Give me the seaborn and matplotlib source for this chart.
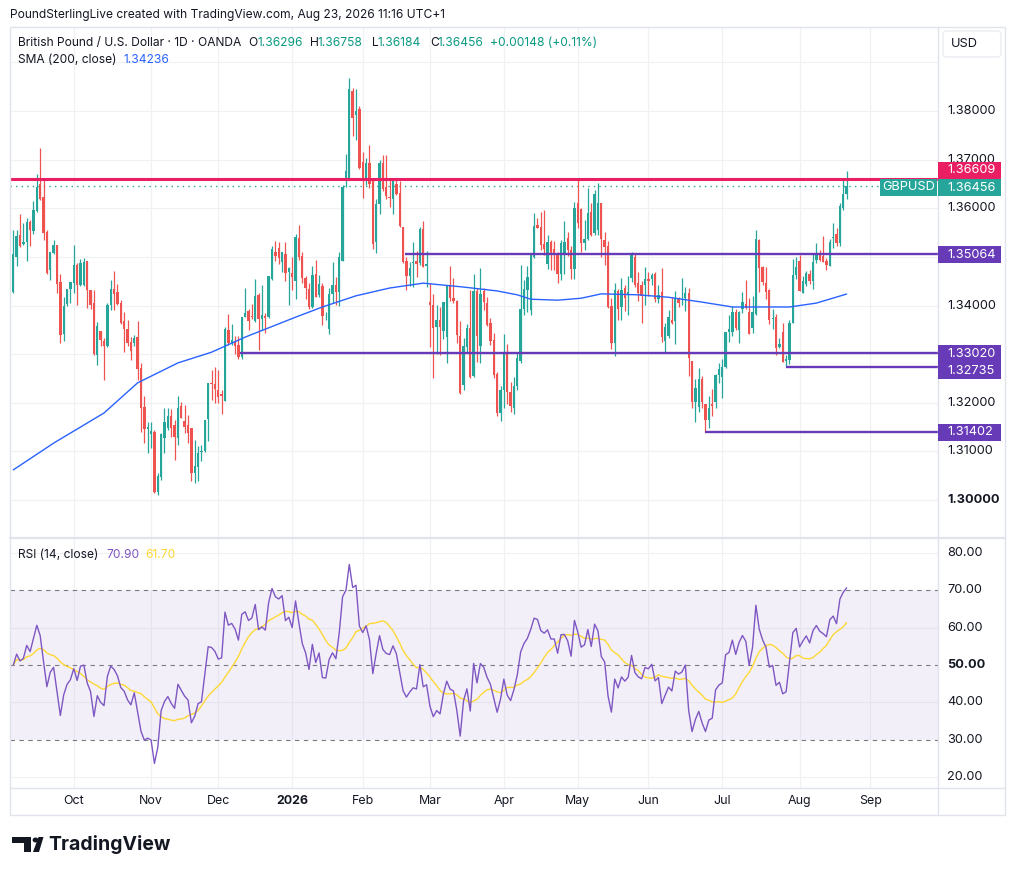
import numpy as np
import pandas as pd
import matplotlib
matplotlib.use("Agg")
import matplotlib.pyplot as plt
from matplotlib.patches import FancyBboxPatch, Rectangle, Polygon, Circle
from matplotlib.lines import Line2D
import seaborn as sns

# ---------------- data (GBP/USD daily, OANDA) ----------------
opens = [
 1.3428, 1.3500, 1.3545, 1.3527, 1.3531, 1.3572, 1.3553, 1.3594, 1.3650, 1.3623,
 1.3551, 1.3473, 1.3508, 1.3525, 1.3448, 1.3342, 1.3403, 1.3433, 1.3446, 1.3483,
 1.3442, 1.3442, 1.3492, 1.3432, 1.3405, 1.3298, 1.3348, 1.3327, 1.3317, 1.3401,
 1.3434, 1.3428, 1.3405, 1.3368, 1.3352, 1.3325, 1.3323, 1.3335, 1.3271, 1.3191,
 1.3146, 1.3135, 1.3140, 1.3016, 1.3048, 1.3128, 1.3148, 1.3173, 1.3154, 1.3128,
 1.3193, 1.3163, 1.3154, 1.3148, 1.3056, 1.3068, 1.3099, 1.3101, 1.3166, 1.3240,
 1.3238, 1.3226, 1.3218, 1.3203, 1.3350, 1.3323, 1.3325, 1.3319, 1.3294, 1.3376,
 1.3389, 1.3378, 1.3368, 1.3422, 1.3372, 1.3379, 1.3376, 1.3455, 1.3510, 1.3518,
 1.3490, 1.3506, 1.3469, 1.3467, 1.3450, 1.3539, 1.3502, 1.3457, 1.3434, 1.3397,
 1.3465, 1.3422, 1.3440, 1.3376, 1.3351, 1.3424, 1.3442, 1.3428, 1.3492, 1.3662,
 1.3662, 1.3841, 1.3792, 1.3804, 1.3695, 1.3658, 1.3693, 1.3658, 1.3531, 1.3609,
 1.3693, 1.3644, 1.3623, 1.3619, 1.3650, 1.3631, 1.3561, 1.3491, 1.3461, 1.3487,
 1.3491, 1.3487, 1.3557, 1.3481, 1.3407, 1.3401, 1.3356, 1.3370, 1.3348, 1.3335,
 1.3442, 1.3415, 1.3409, 1.3337, 1.3237, 1.3315, 1.3354, 1.3255, 1.3430, 1.3317,
 1.3430, 1.3405, 1.3364, 1.3329, 1.3259, 1.3179, 1.3226, 1.3302, 1.3222, 1.3189,
 1.3234, 1.3286, 1.3393, 1.3432, 1.3391, 1.3500, 1.3565, 1.3561, 1.3527, 1.3485,
 1.3530, 1.3516, 1.3506, 1.3465, 1.3504, 1.3539, 1.3514, 1.3475, 1.3611, 1.3598,
 1.3528, 1.3537, 1.3592, 1.3549, 1.3555, 1.3611, 1.3535, 1.3522, 1.3399, 1.3323,
 1.3430, 1.3397, 1.3436, 1.3422, 1.3457, 1.3500, 1.3446, 1.3442, 1.3442, 1.3454,
 1.3454, 1.3465, 1.3413, 1.3428, 1.3327, 1.3337, 1.3370, 1.3368, 1.3413, 1.3409,
 1.3415, 1.3426, 1.3286, 1.3202, 1.3191, 1.3249, 1.3197, 1.3164, 1.3197, 1.3202,
 1.3257, 1.3253, 1.3274, 1.3346, 1.3346, 1.3387, 1.3350, 1.3393, 1.3403, 1.3387,
 1.3354, 1.3383, 1.3535, 1.3479, 1.3446, 1.3432, 1.3372, 1.3376, 1.3315, 1.3346,
 1.3286, 1.3288, 1.3364, 1.3463, 1.3491, 1.3426, 1.3444, 1.3465, 1.3450, 1.3494,
 1.3506, 1.3502, 1.3491, 1.3481, 1.3539, 1.3547, 1.3528, 1.3600, 1.36296]

highs = [
 1.3555, 1.3555, 1.3588, 1.3569, 1.3580, 1.3576, 1.3615, 1.3670, 1.3724, 1.3658,
 1.3555, 1.3510, 1.3535, 1.3525, 1.3465, 1.3418, 1.3433, 1.3448, 1.3525, 1.3487,
 1.3495, 1.3497, 1.3492, 1.3432, 1.3432, 1.3366, 1.3348, 1.3333, 1.3405, 1.3452,
 1.3471, 1.3444, 1.3411, 1.3387, 1.3370, 1.3335, 1.3340, 1.3368, 1.3282, 1.3214,
 1.3160, 1.3160, 1.3144, 1.3056, 1.3138, 1.3189, 1.3189, 1.3187, 1.3164, 1.3214,
 1.3201, 1.3195, 1.3175, 1.3148, 1.3124, 1.3111, 1.3113, 1.3164, 1.3240, 1.3267,
 1.3273, 1.3267, 1.3226, 1.3356, 1.3383, 1.3362, 1.3337, 1.3337, 1.3377, 1.3436,
 1.3393, 1.3403, 1.3455, 1.3426, 1.3442, 1.3384, 1.3461, 1.3523, 1.3533, 1.3530,
 1.3510, 1.3530, 1.3479, 1.3500, 1.3547, 1.3565, 1.3511, 1.3461, 1.3446, 1.3481,
 1.3494, 1.3463, 1.3446, 1.3387, 1.3436, 1.3489, 1.3459, 1.3510, 1.3647, 1.3712,
 1.3868, 1.3847, 1.3845, 1.3810, 1.3716, 1.3704, 1.3730, 1.3663, 1.3620, 1.3699,
 1.3709, 1.3709, 1.3663, 1.3661, 1.3661, 1.3657, 1.3561, 1.3500, 1.3489, 1.3530,
 1.3513, 1.3561, 1.3574, 1.3513, 1.3446, 1.3424, 1.3401, 1.3397, 1.3407, 1.3442,
 1.3481, 1.3456, 1.3411, 1.3368, 1.3333, 1.3362, 1.3432, 1.3465, 1.3436, 1.3477,
 1.3436, 1.3418, 1.3374, 1.3343, 1.3263, 1.3234, 1.3341, 1.3320, 1.3242, 1.3253,
 1.3302, 1.3483, 1.3453, 1.3481, 1.3504, 1.3590, 1.3579, 1.3593, 1.3597, 1.3545,
 1.3535, 1.3532, 1.3511, 1.3535, 1.3574, 1.3551, 1.3522, 1.3612, 1.3658, 1.3600,
 1.3576, 1.3641, 1.3610, 1.3637, 1.3651, 1.3611, 1.3552, 1.3532, 1.3415, 1.3446,
 1.3434, 1.3456, 1.3442, 1.3460, 1.3510, 1.3505, 1.3469, 1.3450, 1.3480, 1.3469,
 1.3466, 1.3469, 1.3442, 1.3478, 1.3364, 1.3391, 1.3417, 1.3429, 1.3417, 1.3456,
 1.3439, 1.3437, 1.3286, 1.3249, 1.3271, 1.3256, 1.3197, 1.3214, 1.3228, 1.3260,
 1.3282, 1.3290, 1.3346, 1.3381, 1.3399, 1.3393, 1.3389, 1.3428, 1.3452, 1.3416,
 1.3420, 1.3555, 1.3536, 1.3481, 1.3480, 1.3434, 1.3393, 1.3382, 1.3333, 1.3364,
 1.3298, 1.3371, 1.3495, 1.3499, 1.3504, 1.3461, 1.3471, 1.3474, 1.3505, 1.3529,
 1.3515, 1.3543, 1.3498, 1.3536, 1.3570, 1.3560, 1.3611, 1.3659, 1.36758]

lows = [
 1.3425, 1.3481, 1.3520, 1.3525, 1.3491, 1.3522, 1.3547, 1.3592, 1.3617, 1.3535,
 1.3465, 1.3452, 1.3506, 1.3426, 1.3323, 1.3327, 1.3400, 1.3405, 1.3426, 1.3401,
 1.3440, 1.3440, 1.3395, 1.3393, 1.3298, 1.3278, 1.3317, 1.3247, 1.3315, 1.3391,
 1.3391, 1.3401, 1.3362, 1.3304, 1.3317, 1.3288, 1.3317, 1.3247, 1.3140, 1.3117,
 1.3097, 1.3107, 1.3014, 1.3010, 1.3041, 1.3097, 1.3144, 1.3130, 1.3082, 1.3113,
 1.3169, 1.3138, 1.3118, 1.3039, 1.3035, 1.3039, 1.3080, 1.3099, 1.3121, 1.3205,
 1.3200, 1.3200, 1.3177, 1.3203, 1.3319, 1.3319, 1.3300, 1.3290, 1.3290, 1.3376,
 1.3350, 1.3372, 1.3366, 1.3308, 1.3350, 1.3343, 1.3374, 1.3453, 1.3492, 1.3485,
 1.3469, 1.3450, 1.3401, 1.3432, 1.3413, 1.3494, 1.3447, 1.3413, 1.3393, 1.3395,
 1.3418, 1.3418, 1.3360, 1.3370, 1.3341, 1.3405, 1.3401, 1.3399, 1.3491, 1.3644,
 1.3662, 1.3749, 1.3741, 1.3680, 1.3621, 1.3648, 1.3641, 1.3516, 1.3508, 1.3589,
 1.3635, 1.3620, 1.3603, 1.3589, 1.3627, 1.3561, 1.3487, 1.3432, 1.3441, 1.3439,
 1.3459, 1.3483, 1.3479, 1.3439, 1.3315, 1.3251, 1.3301, 1.3298, 1.3331, 1.3282,
 1.3409, 1.3405, 1.3323, 1.3219, 1.3227, 1.3305, 1.3251, 1.3253, 1.3284, 1.3282,
 1.3391, 1.3358, 1.3319, 1.3251, 1.3172, 1.3162, 1.3189, 1.3197, 1.3181, 1.3177,
 1.3226, 1.3282, 1.3381, 1.3387, 1.3381, 1.3498, 1.3559, 1.3514, 1.3504, 1.3475,
 1.3473, 1.3473, 1.3446, 1.3452, 1.3465, 1.3501, 1.3454, 1.3454, 1.3559, 1.3511,
 1.3514, 1.3535, 1.3542, 1.3545, 1.3545, 1.3499, 1.3484, 1.3395, 1.3311, 1.3297,
 1.3370, 1.3370, 1.3389, 1.3380, 1.3449, 1.3439, 1.3409, 1.3364, 1.3402, 1.3420,
 1.3442, 1.3408, 1.3406, 1.3324, 1.3302, 1.3333, 1.3362, 1.3321, 1.3396, 1.3401,
 1.3388, 1.3256, 1.3189, 1.3160, 1.3182, 1.3189, 1.3140, 1.3149, 1.3173, 1.3190,
 1.3241, 1.3209, 1.3272, 1.3324, 1.3337, 1.3349, 1.3323, 1.3384, 1.3392, 1.3341,
 1.3344, 1.3380, 1.3428, 1.3443, 1.3413, 1.3361, 1.3351, 1.3299, 1.3313, 1.3283,
 1.32735, 1.3280, 1.3364, 1.3454, 1.3430, 1.3426, 1.3440, 1.3445, 1.3433, 1.3488,
 1.3491, 1.3489, 1.3474, 1.3481, 1.3519, 1.3522, 1.3522, 1.3597, 1.36184]

closes = [
 1.3506, 1.3543, 1.3522, 1.3530, 1.3572, 1.3555, 1.3597, 1.3644, 1.3619, 1.3549,
 1.3467, 1.3510, 1.3525, 1.3444, 1.3339, 1.3400, 1.3433, 1.3448, 1.3483, 1.3442,
 1.3487, 1.3490, 1.3432, 1.3401, 1.3300, 1.3358, 1.3330, 1.3317, 1.3401, 1.3434,
 1.3423, 1.3403, 1.3364, 1.3352, 1.3323, 1.3306, 1.3333, 1.3269, 1.3189, 1.3146,
 1.3150, 1.3142, 1.3016, 1.3049, 1.3136, 1.3160, 1.3173, 1.3148, 1.3130, 1.3189,
 1.3169, 1.3150, 1.3138, 1.3056, 1.3070, 1.3097, 1.3101, 1.3164, 1.3240, 1.3238,
 1.3229, 1.3211, 1.3214, 1.3352, 1.3323, 1.3329, 1.3317, 1.3294, 1.3376, 1.3385,
 1.3368, 1.3376, 1.3420, 1.3372, 1.3380, 1.3374, 1.3461, 1.3517, 1.3502, 1.3498,
 1.3510, 1.3467, 1.3477, 1.3459, 1.3541, 1.3500, 1.3457, 1.3436, 1.3397, 1.3463,
 1.3418, 1.3444, 1.3378, 1.3377, 1.3424, 1.3442, 1.3428, 1.3500, 1.3644, 1.3677,
 1.3845, 1.3786, 1.3800, 1.3683, 1.3662, 1.3693, 1.3650, 1.3526, 1.3609, 1.3693,
 1.3640, 1.3625, 1.3621, 1.3656, 1.3630, 1.3563, 1.3489, 1.3461, 1.3477, 1.3489,
 1.3485, 1.3557, 1.3479, 1.3485, 1.3401, 1.3354, 1.3370, 1.3356, 1.3407, 1.3442,
 1.3415, 1.3409, 1.3339, 1.3221, 1.3317, 1.3354, 1.3253, 1.3430, 1.3337, 1.3424,
 1.3407, 1.3360, 1.3327, 1.3257, 1.3179, 1.3226, 1.3304, 1.3222, 1.3193, 1.3234,
 1.3292, 1.3393, 1.3434, 1.3459, 1.3504, 1.3563, 1.3559, 1.3524, 1.3516, 1.3530,
 1.3504, 1.3504, 1.3465, 1.3529, 1.3530, 1.3514, 1.3475, 1.3601, 1.3570, 1.3528,
 1.3536, 1.3590, 1.3545, 1.3629, 1.3611, 1.3537, 1.3520, 1.3397, 1.3323, 1.3432,
 1.3393, 1.3432, 1.3415, 1.3428, 1.3504, 1.3442, 1.3426, 1.3419, 1.3454, 1.3450,
 1.3463, 1.3413, 1.3422, 1.3335, 1.3356, 1.3376, 1.3364, 1.3413, 1.3405, 1.3410,
 1.3426, 1.3292, 1.3202, 1.3230, 1.3249, 1.3202, 1.3164, 1.3189, 1.3193, 1.3257,
 1.3269, 1.3274, 1.3346, 1.3352, 1.3387, 1.3354, 1.3387, 1.3407, 1.3395, 1.3341,
 1.3387, 1.3537, 1.3477, 1.3448, 1.3428, 1.3370, 1.3375, 1.3313, 1.3321, 1.3284,
 1.3289, 1.3364, 1.3463, 1.3479, 1.3430, 1.3450, 1.3467, 1.3450, 1.3489, 1.3506,
 1.3494, 1.3489, 1.3483, 1.3530, 1.3541, 1.3528, 1.3604, 1.3629, 1.36456]

# 200-day SMA, read at selected bars (bar index, value)
sma_bar = [0, 12, 27, 37, 49, 59, 69, 84, 92, 102, 112, 122, 134, 144, 150, 154,
           162, 169, 175, 186, 195, 205, 214, 224, 231, 239, 248]
sma_val = [1.3062, 1.3117, 1.3179, 1.3241, 1.3282, 1.3304, 1.3335, 1.3376, 1.3397,
           1.3420, 1.3436, 1.3446, 1.3438, 1.3430, 1.3422, 1.3413, 1.3411, 1.3415,
           1.3424, 1.3422, 1.3417, 1.3407, 1.3397, 1.3397, 1.3397, 1.3405, 1.34236]

# drawn horizontal support lines: level and starting bar
support_levels = [1.35064, 1.33020, 1.32735, 1.31402]
support_start = [116.5, 67.5, 230.0, 206.0]
resistance_level = 1.36609

price_ticks = [1.38, 1.37, 1.36, 1.34, 1.32, 1.31, 1.30]
rsi_ticks = [80, 70, 60, 50, 40, 30, 20]
month_names = ["Oct", "Nov", "Dec", "2026", "Feb", "Mar", "Apr", "May", "Jun", "Jul", "Aug", "Sep"]

rsi_last_text = "70.90"
rsi_ma_last_text = "61.70"
change_text = "+0.00148 (+0.11%)"

# ---------------- preparation ----------------
n = min(len(opens), len(highs), len(lows), len(closes))
o = np.array(opens[:n]); h = np.array(highs[:n]); l = np.array(lows[:n]); c = np.array(closes[:n])
h = np.maximum(h, np.maximum(o, c)); l = np.minimum(l, np.minimum(o, c))
idx = np.arange(n)

hol = ["2025-12-25", "2026-01-01"]
all_days = pd.bdate_range("2025-09-05", "2026-09-30", freq="C", holidays=hol)
month_pos = []
prev = all_days[0].month
for i, d in enumerate(all_days):
    if d.month != prev:
        month_pos.append(i)
        prev = d.month

# RSI (14) Wilder, and its 14-period SMA
diff = np.diff(c, prepend=c[0])
ag, al = 0.0025, 0.0025
rsi = []
for d in diff:
    ag = (ag * 13 + max(d, 0)) / 14
    al = (al * 13 + max(-d, 0)) / 14
    rsi.append(100 - 100 / (1 + ag / al))
rsi = np.array(rsi)
rsi_ma = pd.Series(rsi).rolling(14, min_periods=1).mean().values

# ---------------- figure ----------------
sns.set_theme(style="white")
plt.rcParams['font.family'] = ['Inter', 'DejaVu Sans']

W, H = 1016, 875
fig = plt.figure(figsize=(W / 100, H / 100), dpi=100)
fig.patch.set_facecolor("white")

def fx(px): return px / W
def fy(py): return 1 - py / H

L, R = 10, 938
PT, PB = 27, 538
RT, RB = 538, 788
ax = fig.add_axes([fx(L), fy(PB), (R - L) / W, (PB - PT) / H])
axr = fig.add_axes([fx(L), fy(RB), (R - L) / W, (RB - RT) / H])
for a in (ax, axr):
    a.set_facecolor("white")
    for s in a.spines.values():
        s.set_visible(False)
    a.set_xticks([]); a.set_yticks([])
    a.set_xlim(-0.98, 275.2)
ax.set_ylim(1.29219, 1.39728)
axr.set_ylim(17.05, 84.0)

GRID = "#F0F1F4"
for p in np.arange(1.30, 1.395, 0.01):
    ax.axhline(p, color=GRID, lw=0.9, zorder=0)
for m in month_pos:
    ax.axvline(m, color=GRID, lw=0.9, zorder=0)
    axr.axvline(m, color=GRID, lw=0.9, zorder=0)
for v in (20, 40, 60, 80):
    axr.axhline(v, color=GRID, lw=0.9, zorder=0)

UP, DN = "#26A69A", "#EF5350"
cols = np.where(c >= o, UP, DN)
ax.vlines(idx, l, h, colors=cols, lw=0.9, zorder=3)
ax.bar(idx, np.maximum(np.abs(c - o), 0.00007), bottom=np.minimum(o, c),
       width=0.7, color=cols, linewidth=0, zorder=4)

sns.lineplot(x=sma_bar, y=sma_val, ax=ax, color="#2962FF", lw=1.0, zorder=5, legend=False)

ax.axhline(c[-1], color=UP, lw=1.0, ls=(0, (1, 3)), zorder=2)
ax.axhline(resistance_level, color="#E91E63", lw=2.2, zorder=6)
PURPLE = "#673AB7"
for lev, st in zip(support_levels, support_start):
    ax.hlines(lev, st, 275.2, color=PURPLE, lw=1.7, zorder=6)

# RSI pane
axr.axhspan(30, 70, color="#7E57C2", alpha=0.09, lw=0, zorder=0)
for v in (70, 50, 30):
    axr.axhline(v, color="#787B86", lw=0.8, ls=(0, (4, 4)), zorder=1)
sns.lineplot(x=idx, y=rsi, ax=axr, color="#7E57C2", lw=1.0, zorder=4, legend=False)
sns.lineplot(x=idx, y=rsi_ma, ax=axr, color="#FDD835", lw=1.0, zorder=3, legend=False)
for a in (ax, axr):
    a.set_xlabel(""); a.set_ylabel("")
    a.set_xlim(-0.98, 275.2)

# frame lines
BORDER = "#E0E3EB"
fig.add_artist(Rectangle((fx(10), fy(815)), (1005 - 10) / W, (815 - 27) / H,
                         fill=False, ec=BORDER, lw=1.0, transform=fig.transFigure))
fig.add_artist(Line2D([fx(938), fx(938)], [fy(27), fy(815)], color=BORDER, lw=1.0))
fig.add_artist(Line2D([fx(10), fx(1005)], [fy(538), fy(538)], color=BORDER, lw=1.6))
fig.add_artist(Line2D([fx(10), fx(1005)], [fy(788), fy(788)], color=BORDER, lw=1.0))

TXT = "#131722"
FS = 9.2      # scale labels
LFS = 8.65    # legend / header text

def ypx(axis, val):
    return H - axis.transData.transform((0, val))[1]

# price scale labels
for p in price_ticks:
    fig.text(fx(947), fy(ypx(ax, p)), f"{p:.5f}", fontsize=FS, color=TXT, va="center",
             ha="left", fontweight="bold" if abs(p - 1.30) < 1e-9 else "normal", zorder=5)

def tag(text, yc, color, x0=938, x1=1001, hh=17, zo=10):
    fig.add_artist(Rectangle((fx(x0), fy(yc + hh / 2)), (x1 - x0) / W, hh / H,
                             fc=color, ec="none", transform=fig.transFigure, zorder=zo))
    fig.text(fx(x0 + 9), fy(yc), text, fontsize=FS, color="white", va="center", ha="left", zorder=zo + 1)

tag(f"{resistance_level:.5f}", ypx(ax, resistance_level) - 8.6, "#E91E63")
tag(f"{c[-1]:.5f}", ypx(ax, c[-1]) + 1.5, UP)
fig.add_artist(Rectangle((fx(880), fy(196)), 57 / W, 17 / H, fc=UP, ec="none",
                         transform=fig.transFigure, zorder=10))
fig.text(fx(908.5), fy(187.5), "GBPUSD", fontsize=FS, color="white", va="center", ha="center", zorder=11)
tag(f"{support_levels[0]:.5f}", ypx(ax, support_levels[0]) + 1, PURPLE)
y1 = ypx(ax, support_levels[1]) + 0.5
y2 = ypx(ax, support_levels[2]) + 3.5
fig.add_artist(Rectangle((fx(938), fy(y2 + 8.5)), 63 / W, (y2 - y1 + 17) / H, fc=PURPLE, ec="none",
                         transform=fig.transFigure, zorder=10))
fig.text(fx(947), fy(y1), f"{support_levels[1]:.5f}", fontsize=FS, color="white", va="center", zorder=11)
fig.text(fx(947), fy(y2), f"{support_levels[2]:.5f}", fontsize=FS, color="white", va="center", zorder=11)
tag(f"{support_levels[3]:.5f}", ypx(ax, support_levels[3]) + 0.5, PURPLE)

# USD box
fig.add_artist(FancyBboxPatch((fx(943), fy(57)), 58 / W, 26 / H,
                              boxstyle="round,pad=0,rounding_size=0.004", fc="white", ec="#E9EBF0",
                              lw=1.0, transform=fig.transFigure))
fig.text(fx(951), fy(44), "USD", fontsize=FS, color=TXT, va="center", ha="left")

# RSI scale labels
for v in rsi_ticks:
    fig.text(fx(947), fy(ypx(axr, v)), f"{v:.2f}", fontsize=FS, color=TXT, va="center",
             fontweight="bold" if v == 50 else "normal")

# time axis labels
for m, name in zip(month_pos, month_names):
    xd = ax.transData.transform((m, 0))[0]
    fig.text(xd / W, fy(801), name, fontsize=LFS + 0.3, color=TXT, va="center", ha="center",
             fontweight="bold" if name == "2026" else "normal")

# header and legends
fig.text(fx(10), fy(15), "PoundSterlingLive created with TradingView.com, Aug 23, 2026 11:16 UTC+1",
         fontsize=LFS, color=TXT, va="center")
GREEN = "#089981"
fig.text(fx(18), fy(43), "British Pound / U.S. Dollar · 1D · OANDA", fontsize=LFS, color=TXT, va="center")
for xx, t, col in [(248, "O", TXT), (257, f"{o[-1]:.5f}", GREEN), (310, "H", TXT), (318, f"{h[-1]:.5f}", GREEN),
                   (372, "L", TXT), (378, f"{l[-1]:.5f}", GREEN), (430, "C", TXT), (438, f"{c[-1]:.5f}", GREEN),
                   (490, change_text, GREEN)]:
    fig.text(fx(xx), fy(43), t, fontsize=LFS, color=col, va="center")
fig.text(fx(18), fy(60), "SMA (200, close)", fontsize=LFS, color=TXT, va="center")
fig.text(fx(123), fy(60), f"{sma_val[-1]:.5f}", fontsize=LFS, color="#2962FF", va="center")
fig.text(fx(18), fy(555), "RSI (14, close)", fontsize=LFS, color=TXT, va="center")
fig.text(fx(106), fy(555), rsi_last_text, fontsize=LFS, color="#7E57C2", va="center")
fig.text(fx(145), fy(555), rsi_ma_last_text, fontsize=LFS, color="#FDD835", va="center")

# TradingView logo
def P(pts):
    return [(fx(x), fy(y)) for x, y in pts]
fig.add_artist(Polygon(P([(12, 837), (31, 837), (31, 852), (24, 852), (24, 843), (12, 843)]),
                       closed=True, fc=TXT, ec="none", transform=fig.transFigure))
fig.add_artist(Circle((fx(35.5), fy(840)), 2.9 / W, fc=TXT, ec="none", transform=fig.transFigure))
fig.add_artist(Polygon(P([(33, 852), (39, 852), (43.5, 837), (38.5, 837)]), closed=True,
                       fc=TXT, ec="none", transform=fig.transFigure))
fig.text(fx(48), fy(845), "TradingView", fontsize=14, fontweight="bold", color=TXT, va="center")

fig.savefig("out.png", dpi=100, facecolor="white")
print(n, len(all_days), month_pos, round(rsi[-1], 2), round(rsi_ma[-1], 2))
